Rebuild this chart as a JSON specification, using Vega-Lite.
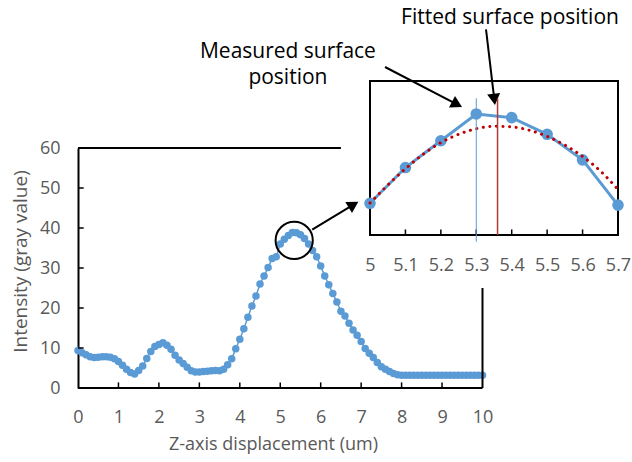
{
  "$schema": "https://vega.github.io/schema/vega-lite/v6.json",
  "width": 540,
  "height": 240,
  "autosize": {"type": "none"},
  "padding": {"left": 78, "top": 148, "right": 14, "bottom": 74},
  "background": "white",
  "config": {
    "view": {"stroke": null},
    "font": "Open Sans",
    "axis": {"grid": false, "labelOverlap": false, "labelFlush": false}
  },
  "datasets": {
    "one": [{}],
    "xticks": [{"t": 1}, {"t": 2}, {"t": 3}, {"t": 4}, {"t": 5}, {"t": 6}, {"t": 7}, {"t": 8}, {"t": 9}],
    "yticks": [{"t": 10}, {"t": 20}, {"t": 30}, {"t": 40}, {"t": 50}],
    "iticks": [{"t": 5.1}, {"t": 5.2}, {"t": 5.3}, {"t": 5.4}, {"t": 5.5}, {"t": 5.6}],
    "main": [
      {"x": 0.0, "y": 9.4}, {"x": 0.1, "y": 8.8}, {"x": 0.2, "y": 8.3}, {"x": 0.3, "y": 7.8}, {"x": 0.4, "y": 7.6},
      {"x": 0.5, "y": 7.7}, {"x": 0.6, "y": 7.8}, {"x": 0.7, "y": 7.8}, {"x": 0.8, "y": 7.7}, {"x": 0.9, "y": 7.3},
      {"x": 1.0, "y": 6.6}, {"x": 1.1, "y": 5.7}, {"x": 1.2, "y": 4.7}, {"x": 1.3, "y": 3.9}, {"x": 1.4, "y": 3.5},
      {"x": 1.5, "y": 4.4}, {"x": 1.6, "y": 5.5}, {"x": 1.7, "y": 7.4}, {"x": 1.8, "y": 9.1}, {"x": 1.9, "y": 10.4},
      {"x": 2.0, "y": 10.9}, {"x": 2.1, "y": 11.3}, {"x": 2.2, "y": 10.7}, {"x": 2.3, "y": 9.7}, {"x": 2.4, "y": 8.2},
      {"x": 2.5, "y": 7.0}, {"x": 2.6, "y": 6.1}, {"x": 2.7, "y": 5.2}, {"x": 2.8, "y": 4.3}, {"x": 2.9, "y": 4.0},
      {"x": 3.0, "y": 4.0}, {"x": 3.1, "y": 4.1}, {"x": 3.2, "y": 4.2}, {"x": 3.3, "y": 4.3}, {"x": 3.4, "y": 4.4},
      {"x": 3.5, "y": 4.3}, {"x": 3.6, "y": 4.7}, {"x": 3.7, "y": 5.8}, {"x": 3.8, "y": 7.3}, {"x": 3.9, "y": 9.8},
      {"x": 4.0, "y": 12.2}, {"x": 4.1, "y": 14.8}, {"x": 4.2, "y": 17.7}, {"x": 4.3, "y": 20.5}, {"x": 4.4, "y": 23.0},
      {"x": 4.5, "y": 26.0}, {"x": 4.6, "y": 28.0}, {"x": 4.7, "y": 30.1}, {"x": 4.8, "y": 32.4}, {"x": 4.9, "y": 32.8},
      {"x": 5.0, "y": 36.0}, {"x": 5.1, "y": 37.2}, {"x": 5.2, "y": 38.1}, {"x": 5.3, "y": 38.9}, {"x": 5.4, "y": 38.8},
      {"x": 5.5, "y": 38.3}, {"x": 5.6, "y": 37.4}, {"x": 5.7, "y": 36.0}, {"x": 5.8, "y": 34.4}, {"x": 5.9, "y": 32.8},
      {"x": 6.0, "y": 30.5}, {"x": 6.1, "y": 28.0}, {"x": 6.2, "y": 25.8}, {"x": 6.3, "y": 23.6}, {"x": 6.4, "y": 21.5},
      {"x": 6.5, "y": 19.2}, {"x": 6.6, "y": 18.0}, {"x": 6.7, "y": 16.2}, {"x": 6.8, "y": 14.5}, {"x": 6.9, "y": 13.2},
      {"x": 7.0, "y": 11.6}, {"x": 7.1, "y": 9.9}, {"x": 7.2, "y": 8.7}, {"x": 7.3, "y": 7.6}, {"x": 7.4, "y": 6.4},
      {"x": 7.5, "y": 5.3}, {"x": 7.6, "y": 4.7}, {"x": 7.7, "y": 4.1}, {"x": 7.8, "y": 3.6}, {"x": 7.9, "y": 3.3},
      {"x": 8.0, "y": 3.2}, {"x": 8.1, "y": 3.2}, {"x": 8.2, "y": 3.2}, {"x": 8.3, "y": 3.2}, {"x": 8.4, "y": 3.2},
      {"x": 8.5, "y": 3.2}, {"x": 8.6, "y": 3.2}, {"x": 8.7, "y": 3.2}, {"x": 8.8, "y": 3.2}, {"x": 8.9, "y": 3.2},
      {"x": 9.0, "y": 3.2}, {"x": 9.1, "y": 3.2}, {"x": 9.2, "y": 3.2}, {"x": 9.3, "y": 3.2}, {"x": 9.4, "y": 3.2},
      {"x": 9.5, "y": 3.2}, {"x": 9.6, "y": 3.2}, {"x": 9.7, "y": 3.2}, {"x": 9.8, "y": 3.2}, {"x": 9.9, "y": 3.2},
      {"x": 10.0, "y": 3.2}
    ],
    "inset": [
      {"x": 5.0, "y": 36.03}, {"x": 5.1, "y": 37.19}, {"x": 5.2, "y": 38.06}, {"x": 5.3, "y": 38.93},
      {"x": 5.4, "y": 38.81}, {"x": 5.5, "y": 38.27}, {"x": 5.6, "y": 37.44}, {"x": 5.7, "y": 35.97}
    ],
    "fit": [
      {"x": 5.0, "y": 36.04}, {"x": 5.05, "y": 36.62}, {"x": 5.1, "y": 37.15}, {"x": 5.15, "y": 37.62},
      {"x": 5.2, "y": 38.0}, {"x": 5.25, "y": 38.27}, {"x": 5.3, "y": 38.45}, {"x": 5.35, "y": 38.53},
      {"x": 5.4, "y": 38.51}, {"x": 5.45, "y": 38.4}, {"x": 5.5, "y": 38.2}, {"x": 5.55, "y": 37.92},
      {"x": 5.6, "y": 37.55}, {"x": 5.65, "y": 37.08}, {"x": 5.7, "y": 36.48}
    ]
  },
  "layer": [
    {
      "layer": [
        {
          "data": {"name": "main"},
          "mark": {"type": "line", "color": "#5B9BD5", "strokeWidth": 1.5},
          "encoding": {
            "x": {
              "field": "x", "type": "quantitative",
              "scale": {"domain": [0, 13.35], "nice": false, "zero": false},
              "axis": {
                "values": [0, 1, 2, 3, 4, 5, 6, 7, 8, 9, 10], "format": "d", "labelOverlap": false,
                "domain": false, "ticks": false,
                "labelColor": "#595959", "labelFontSize": 18, "labelPadding": 20,
                "title": "Z-axis displacement (um)", "titleColor": "#595959", "titleFontSize": 18,
                "titleFontWeight": "normal", "titleX": 195, "titleY": 56, "titleBaseline": "middle"
              }
            },
            "y": {
              "field": "y", "type": "quantitative",
              "scale": {"domain": [0, 60], "nice": false, "zero": false},
              "axis": {
                "values": [0, 10, 20, 30, 40, 50, 60], "tickCount": 7, "format": "d", "labelOverlap": false,
                "domain": true, "domainColor": "#000", "domainWidth": 2, "ticks": false,
                "labelColor": "#595959", "labelFontSize": 18, "labelPadding": 18,
                "title": "Intensity (gray value)", "titleColor": "#595959", "titleFontSize": 19,
                "titleFontWeight": "normal", "titleX": -58, "titleY": 113, "titleBaseline": "middle", "titleAngle": -90
              }
            }
          }
        },
        {
          "data": {"name": "main"},
          "mark": {"type": "circle", "color": "#5B9BD5", "size": 56, "opacity": 1},
          "encoding": {
            "x": {"field": "x", "type": "quantitative"},
            "y": {"field": "y", "type": "quantitative"}
          }
        },
        {
          "data": {"name": "xticks"},
          "mark": {"type": "rule", "color": "#000", "strokeWidth": 1.5},
          "encoding": {
            "x": {"field": "t", "type": "quantitative"},
            "y": {"datum": 0, "type": "quantitative"}, "y2": {"datum": 1.4}
          }
        },
        {
          "data": {"name": "yticks"},
          "mark": {"type": "rule", "color": "#000", "strokeWidth": 1.5},
          "encoding": {
            "y": {"field": "t", "type": "quantitative"},
            "x": {"datum": 0, "type": "quantitative"}, "x2": {"datum": 0.14}
          }
        },
        {
          "data": {"name": "one"},
          "mark": {"type": "rule", "color": "#000", "strokeWidth": 2},
          "encoding": {
            "x": {"datum": 0, "type": "quantitative"}, "x2": {"datum": 10},
            "y": {"datum": 0, "type": "quantitative"}
          }
        },
        {
          "data": {"name": "one"},
          "mark": {"type": "rule", "color": "#000", "strokeWidth": 2},
          "encoding": {
            "x": {"datum": 0, "type": "quantitative"}, "x2": {"datum": 6.5},
            "y": {"datum": 60, "type": "quantitative"}
          }
        },
        {
          "data": {"name": "one"},
          "mark": {"type": "rule", "color": "#000", "strokeWidth": 2},
          "encoding": {
            "x": {"datum": 10, "type": "quantitative"},
            "y": {"datum": 0, "type": "quantitative"}, "y2": {"datum": 25}
          }
        },
        {
          "data": {"name": "one"},
          "mark": {"type": "point", "shape": "circle", "filled": false, "color": "#000", "strokeWidth": 2, "size": 1385, "opacity": 1},
          "encoding": {
            "x": {"datum": 5.345, "type": "quantitative"},
            "y": {"datum": 36.9, "type": "quantitative"}
          }
        },
        {
          "data": {"name": "one"},
          "mark": {"type": "rule", "color": "#000", "strokeWidth": 2},
          "encoding": {
            "x": {"datum": 5.79, "type": "quantitative"}, "x2": {"datum": 6.811},
            "y": {"datum": 39.6, "type": "quantitative"}, "y2": {"datum": 45.85}
          }
        },
        {
          "data": {"name": "one"},
          "mark": {"type": "point", "shape": "triangle-up", "filled": true, "color": "#000", "size": 170, "angle": 58.9, "opacity": 1},
          "encoding": {
            "x": {"datum": 6.811, "type": "quantitative"},
            "y": {"datum": 45.85, "type": "quantitative"}
          }
        },
        {
          "data": {"name": "one"},
          "mark": {"type": "rule", "color": "#000", "strokeWidth": 2},
          "encoding": {
            "x": {"datum": 7.59, "type": "quantitative"}, "x2": {"datum": 9.37},
            "y": {"datum": 80.25, "type": "quantitative"}, "y2": {"datum": 70.9}
          }
        },
        {
          "data": {"name": "one"},
          "mark": {"type": "point", "shape": "triangle-up", "filled": true, "color": "#000", "size": 170, "angle": 117.5, "opacity": 1},
          "encoding": {
            "x": {"datum": 9.37, "type": "quantitative"},
            "y": {"datum": 70.9, "type": "quantitative"}
          }
        },
        {
          "data": {"name": "one"},
          "mark": {"type": "rule", "color": "#000", "strokeWidth": 2},
          "encoding": {
            "x": {"datum": 10.087, "type": "quantitative"}, "x2": {"datum": 10.292},
            "y": {"datum": 89.675, "type": "quantitative"}, "y2": {"datum": 72.15}
          }
        },
        {
          "data": {"name": "one"},
          "mark": {"type": "point", "shape": "triangle-up", "filled": true, "color": "#000", "size": 170, "angle": 173.2, "opacity": 1},
          "encoding": {
            "x": {"datum": 10.292, "type": "quantitative"},
            "y": {"datum": 72.15, "type": "quantitative"}
          }
        },
        {
          "data": {"name": "one"},
          "mark": {"type": "text", "text": "Measured surface", "fontSize": 21, "color": "#000", "align": "center", "baseline": "middle"},
          "encoding": {
            "x": {"datum": 5.19, "type": "quantitative"},
            "y": {"datum": 84, "type": "quantitative"}
          }
        },
        {
          "data": {"name": "one"},
          "mark": {"type": "text", "text": "position", "fontSize": 21, "color": "#000", "align": "center", "baseline": "middle"},
          "encoding": {
            "x": {"datum": 5.19, "type": "quantitative"},
            "y": {"datum": 77.5, "type": "quantitative"}
          }
        },
        {
          "data": {"name": "one"},
          "mark": {"type": "text", "text": "Fitted surface position", "fontSize": 21, "color": "#000", "align": "center", "baseline": "middle"},
          "encoding": {
            "x": {"datum": 10.68, "type": "quantitative"},
            "y": {"datum": 92.5, "type": "quantitative"}
          }
        }
      ]
    },
    {
      "layer": [
        {
          "data": {"name": "one"},
          "mark": {"type": "rect", "fillOpacity": 0, "stroke": "#000", "strokeWidth": 2},
          "encoding": {
            "x": {"datum": 5, "type": "quantitative", "scale": {"domain": [4.1758, 5.7], "nice": false, "zero": false}},
            "x2": {"datum": 5.7},
            "y": {"datum": 35, "type": "quantitative", "scale": {"domain": [30.0325, 37.8247], "nice": false, "zero": false}, "axis": null},
            "y2": {"datum": 40}
          }
        },
        {
          "data": {"name": "iticks"},
          "mark": {"type": "rule", "color": "#000", "strokeWidth": 1.5},
          "encoding": {
            "x": {"field": "t", "type": "quantitative"},
            "y": {"datum": 35, "type": "quantitative", "axis": null}, "y2": {"datum": 35.18}
          }
        },
        {
          "data": {"name": "inset"},
          "mark": {"type": "line", "color": "#5B9BD5", "strokeWidth": 3},
          "encoding": {
            "x": {
              "field": "x", "type": "quantitative",
              "axis": {
                "orient": "bottom", "offset": -153,
                "values": [5, 5.1, 5.2, 5.3, 5.4, 5.5, 5.6, 5.7], "format": "~g", "labelOverlap": false,
                "domain": false, "ticks": false,
                "labelColor": "#595959", "labelFontSize": 18, "labelPadding": 21, "title": null
              }
            },
            "y": {"field": "y", "type": "quantitative", "axis": null}
          }
        },
        {
          "data": {"name": "inset"},
          "mark": {"type": "circle", "color": "#5B9BD5", "size": 135, "opacity": 1},
          "encoding": {
            "x": {"field": "x", "type": "quantitative"},
            "y": {"field": "y", "type": "quantitative", "axis": null}
          }
        },
        {
          "data": {"name": "fit"},
          "mark": {"type": "line", "color": "#C00000", "strokeWidth": 3, "strokeDash": [0.1, 6.5], "strokeCap": "round", "interpolate": "monotone"},
          "encoding": {
            "x": {"field": "x", "type": "quantitative"},
            "y": {"field": "y", "type": "quantitative", "axis": null}
          }
        },
        {
          "data": {"name": "one"},
          "mark": {"type": "rule", "color": "#5B9BD5", "strokeWidth": 1},
          "encoding": {
            "x": {"datum": 5.3, "type": "quantitative"},
            "y": {"datum": 34.78, "type": "quantitative", "axis": null}, "y2": {"datum": 39.44}
          }
        },
        {
          "data": {"name": "one"},
          "mark": {"type": "rule", "color": "#B03A3A", "strokeWidth": 1.5},
          "encoding": {
            "x": {"datum": 5.36, "type": "quantitative"},
            "y": {"datum": 35, "type": "quantitative", "axis": null}, "y2": {"datum": 39.44}
          }
        }
      ]
    }
  ],
  "resolve": {"scale": {"x": "independent", "y": "independent"}, "axis": {"x": "independent", "y": "independent"}}
}
